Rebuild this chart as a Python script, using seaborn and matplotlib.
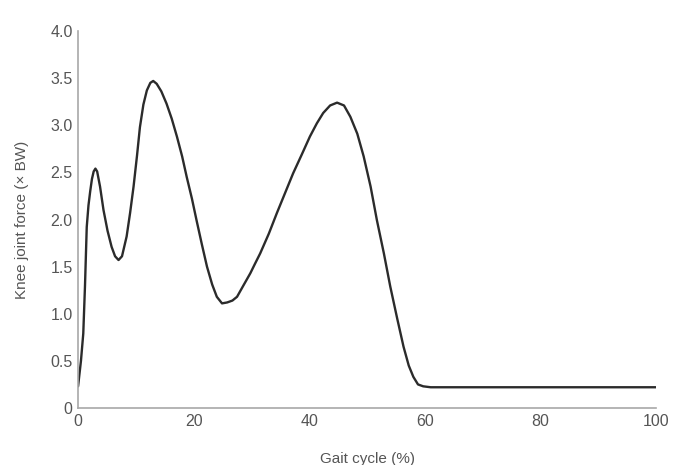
import numpy as np
import pandas as pd
import seaborn as sns
import matplotlib.pyplot as plt

# valores (ciclo da marcha em %, força no joelho em x peso corporal)
gait_pct = [0, 0.5, 0.9, 1.2, 1.5, 1.8, 2.1, 2.4, 2.7, 3.0, 3.3, 3.8, 4.4, 5.1, 5.8, 6.4, 7.0,
            7.6, 8.4, 9.0, 9.6, 10.2, 10.7, 11.3, 11.9, 12.5, 13.0, 13.6, 14.4, 15.3,
            16.2, 17.1, 18.0, 18.8, 19.7, 20.5, 21.4, 22.3, 23.2, 24.0, 24.9, 25.8,
            26.7, 27.5, 28.6, 29.8, 30.6, 31.5, 33.0, 34.4, 35.8, 37.2, 38.7, 40.1,
            41.3, 42.4, 43.6, 44.8, 46.0, 47.1, 48.3, 49.4, 50.6, 51.7, 52.9, 54.0,
            55.2, 56.3, 57.2, 58.0, 58.8, 59.7, 61, 70, 80, 90, 100]
knee_force = [0.23, 0.50, 0.79, 1.30, 1.92, 2.15, 2.30, 2.43, 2.51, 2.54, 2.51, 2.35, 2.10, 1.88,
              1.71, 1.61, 1.57, 1.61, 1.82, 2.07, 2.35, 2.68, 2.98, 3.22, 3.37, 3.45,
              3.47, 3.44, 3.36, 3.23, 3.07, 2.88, 2.67, 2.45, 2.22, 1.99, 1.74, 1.50,
              1.31, 1.18, 1.11, 1.12, 1.14, 1.18, 1.30, 1.43, 1.53, 1.64, 1.85, 2.07,
              2.28, 2.49, 2.69, 2.88, 3.02, 3.13, 3.21, 3.24, 3.21, 3.09, 2.91, 2.67,
              2.35, 1.99, 1.64, 1.29, 0.95, 0.65, 0.45, 0.33, 0.25, 0.23, 0.22, 0.22,
              0.22, 0.22, 0.22]

x_ticks = [0, 20, 40, 60, 80, 100]
y_ticks = [0, 0.5, 1.0, 1.5, 2.0, 2.5, 3.0, 3.5, 4.0]
y_tick_labels = ['0', '0.5', '1.0', '1.5', '2.0', '2.5', '3.0', '3.5', '4.0']

df = pd.DataFrame({'gait': gait_pct, 'force': knee_force})

sns.set_style('white')
plt.rcParams['font.family'] = ['Liberation Sans', 'DejaVu Sans']

fig = plt.figure(figsize=(6.73, 4.65), dpi=100)
ax = fig.add_axes([0.116, 0.1226, 0.859, 0.8107])

sns.lineplot(data=df, x='gait', y='force', sort=False, estimator=None,
             color='#2b2b2b', linewidth=1.7, ax=ax)

ax.set_xlim(0, 100)
ax.set_ylim(0, 4.0)
ax.set_xticks(x_ticks)
ax.set_xticklabels([str(t) for t in x_ticks])
ax.set_yticks(y_ticks)
ax.set_yticklabels(y_tick_labels)

for side in ['top', 'right']:
    ax.spines[side].set_visible(False)
for side in ['left', 'bottom']:
    ax.spines[side].set_color('#a8a8a8')
    ax.spines[side].set_linewidth(1.2)

ax.tick_params(axis='both', direction='in', length=3, width=0.8, color='#a8a8a8',
               labelcolor='#555555', labelsize=11.5, pad=4)
ax.set_xlabel('Gait cycle (%)', fontsize=11, color='#555555', labelpad=17)
ax.set_ylabel('Knee joint force (× BW)', fontsize=11, color='#555555', labelpad=15)

fig.savefig('out.png', dpi=100)
